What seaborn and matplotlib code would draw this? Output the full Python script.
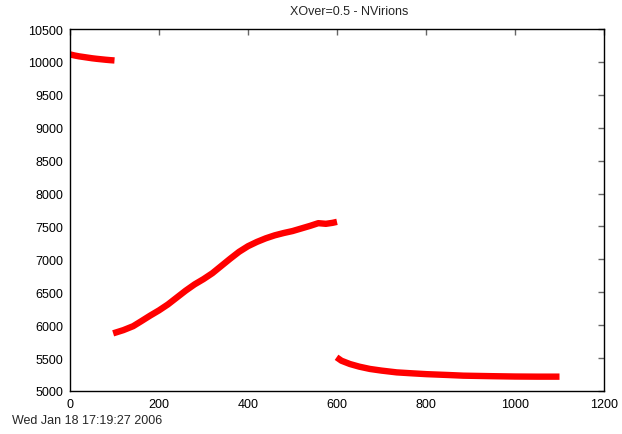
import matplotlib
matplotlib.use("Agg")
import matplotlib.pyplot as plt
import seaborn as sns
import pandas as pd

# Segment 1 (x 0-100)
seg1_x = [0, 10, 20, 30, 40, 50, 60, 70, 80, 90, 100]
seg1_y = [10114, 10098, 10085, 10075, 10065, 10055, 10047, 10040, 10033, 10027, 10022]

# Segment 2 (x 100-600)
seg2_x = [97, 120, 142, 160, 180, 200, 220, 240, 260, 280, 300, 320, 340, 360, 380, 400, 420, 440, 460, 480, 500, 520, 540, 558, 575, 590, 600]
seg2_y = [5876, 5925, 5985, 6060, 6145, 6225, 6315, 6420, 6525, 6620, 6700, 6790, 6900, 7010, 7115, 7200, 7265, 7320, 7365, 7400, 7430, 7470, 7510, 7550, 7540, 7555, 7570]

# Segment 3 (x 600-1100)
seg3_x = [599, 610, 629, 650, 674, 700, 734, 770, 801, 850, 884, 950, 1000, 1050, 1100]
seg3_y = [5512, 5460, 5410, 5370, 5335, 5310, 5283, 5268, 5256, 5243, 5233, 5225, 5220, 5218, 5218]

x_ticks = [0, 200, 400, 600, 800, 1000, 1200]
y_ticks = [5000, 5500, 6000, 6500, 7000, 7500, 8000, 8500, 9000, 9500, 10000, 10500]

title = "XOver=0.5 - NVirions"
stamp = "Wed Jan 18 17:19:27 2006"

sns.set_style("white")
plt.rcParams['font.family'] = ['Liberation Sans', 'DejaVu Sans']

fig = plt.figure(figsize=(6.22, 4.35), dpi=100)
ax = fig.add_axes([70/622, 43/435, 534/622, 362/435])

for xs, ys in [(seg1_x, seg1_y), (seg2_x, seg2_y), (seg3_x, seg3_y)]:
    df = pd.DataFrame({"x": xs, "y": ys})
    sns.lineplot(data=df, x="x", y="y", color="#ff0000", linewidth=4.6, ax=ax,
                 solid_capstyle="butt")

ax.set_xlim(0, 1200)
ax.set_ylim(5000, 10500)
ax.set_xticks(x_ticks)
ax.set_yticks(y_ticks)
ax.set_xlabel("")
ax.set_ylabel("")
ax.tick_params(direction="in", length=4, width=1, color="#666666",
               top=True, right=True, labelsize=9, labelcolor="black", pad=5)
for s in ax.spines.values():
    s.set_color("black")
    s.set_linewidth(1)
    s.set_visible(True)

fig.text(349/622, 1 - 12/435, title, ha="center", va="center", fontsize=9)
fig.text(12/622, 1 - 421/435, stamp, ha="left", va="center", fontsize=9)

fig.savefig("out.png", dpi=100)
